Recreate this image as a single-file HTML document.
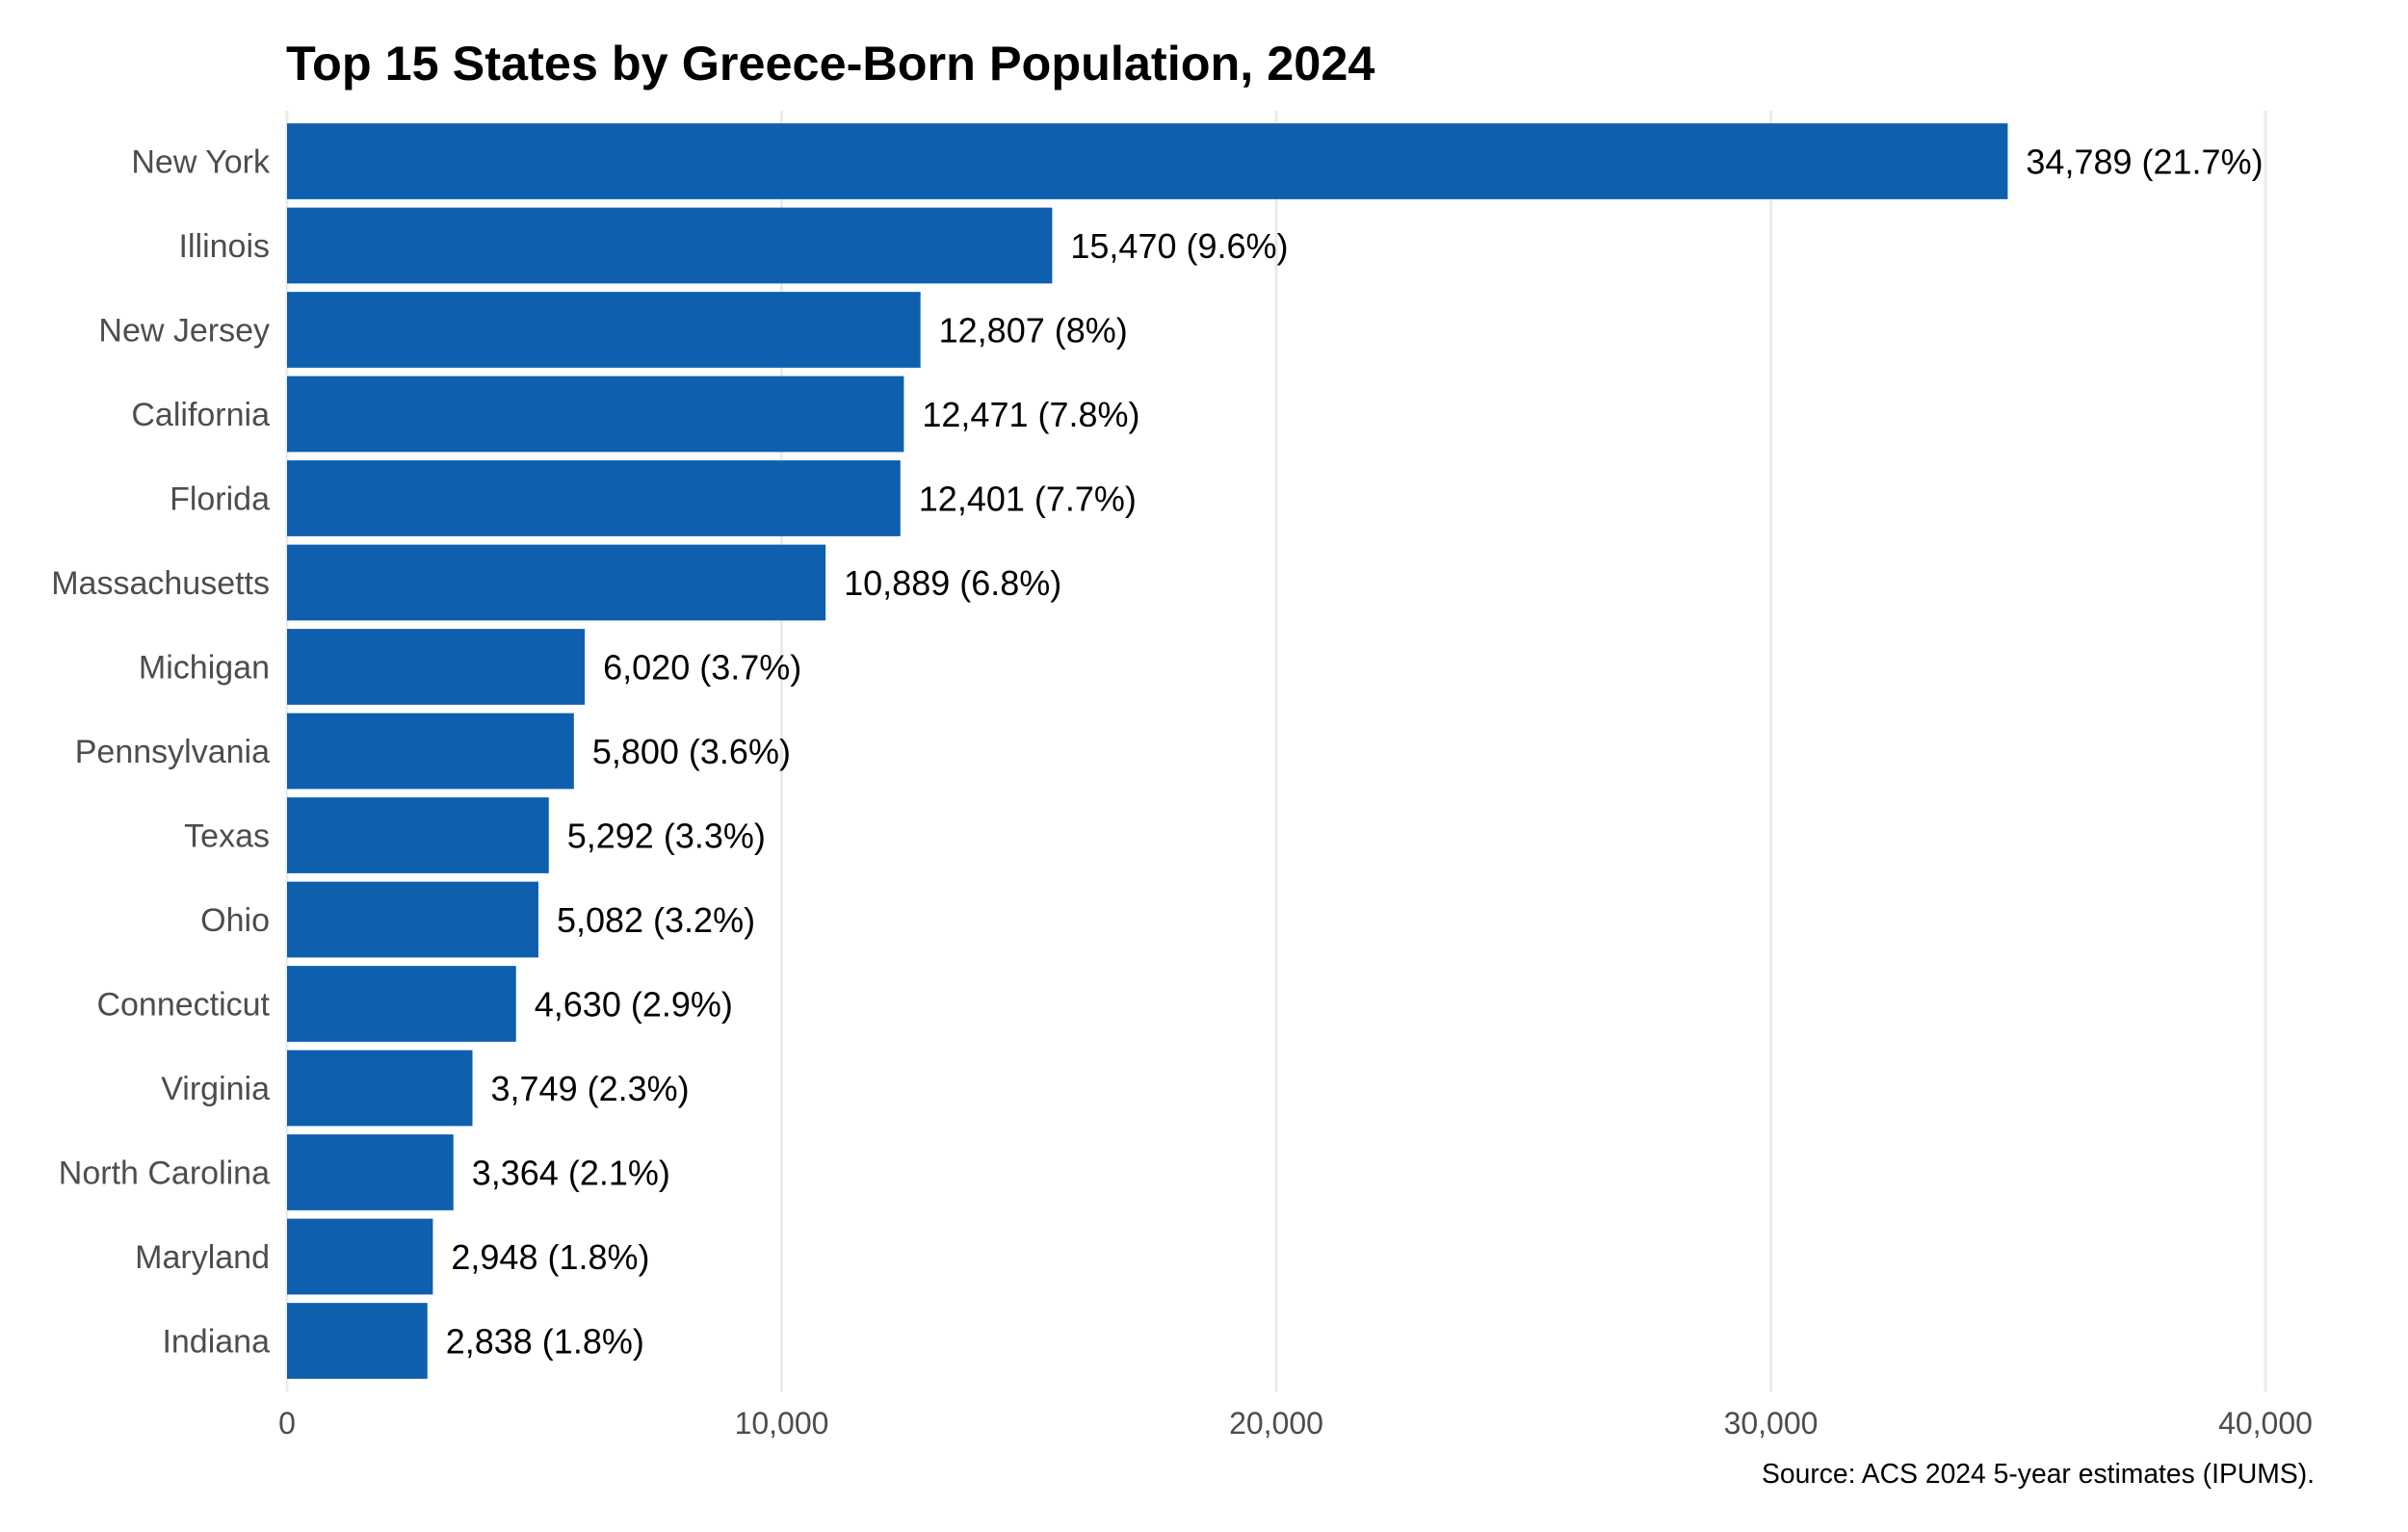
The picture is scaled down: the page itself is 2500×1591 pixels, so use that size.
<!DOCTYPE html>
<html><head><meta charset="utf-8"><style>
html,body{margin:0;padding:0;background:#fff;}
svg{display:block;font-family:"Liberation Sans",Arial,sans-serif;}
</style></head><body>
<svg id="chart" width="2500" height="1591" viewBox="0 0 2500 1591">
<rect width="2500" height="1591" fill="#fff"/>
<text x="297" y="83" font-size="50.4" font-weight="bold" fill="#000">Top 15 States by Greece-Born Population, 2024</text>
<g id="grid"></g>
<g id="bars"></g>
<g id="ylabels"></g>
<g id="xlabels"></g>
<text x="2403" y="1540" font-size="28.3" text-anchor="end" fill="#000">Source: ACS 2024 5-year estimates (IPUMS).</text>
</svg>
<script>
const states = ["New York","Illinois","New Jersey","California","Florida","Massachusetts","Michigan","Pennsylvania","Texas","Ohio","Connecticut","Virginia","North Carolina","Maryland","Indiana"];
const values = [34789,15470,12807,12471,12401,10889,6020,5800,5292,5082,4630,3749,3364,2948,2838];
const shares = ["21.7%","9.6%","8%","7.8%","7.7%","6.8%","3.7%","3.6%","3.3%","3.2%","2.9%","2.3%","2.1%","1.8%","1.8%"];
const xTicks = [0,10000,20000,30000,40000];
const xTickLabels = ["0","10,000","20,000","30,000","40,000"];

const NS="http://www.w3.org/2000/svg";
const x0=298, x1=2352, xMax=40000;
const panelTop=115, panelBot=1445;
const band=(panelBot-panelTop)/(states.length-1+1.2);
function xScale(v){return x0+(v/xMax)*(x1-x0);}
function yCenter(i){return panelTop+band*(0.6+i);}
function mk(tag,attrs,parent){const e=document.createElementNS(NS,tag);for(const k in attrs)e.setAttribute(k,attrs[k]);parent.appendChild(e);return e;}
const grid=document.getElementById('grid'),bars=document.getElementById('bars'),yl=document.getElementById('ylabels'),xl=document.getElementById('xlabels');
xTicks.forEach((t,i)=>{
  const l=mk('line',{x1:xScale(t),x2:xScale(t),y1:panelTop,y2:panelBot,stroke:'#ebebeb','stroke-width':3},grid);
  
  
  const tx=mk('text',{x:xScale(t),y:1489,'font-size':32,'text-anchor':'middle',fill:'#4d4d4d'},xl);
  tx.textContent=xTickLabels[i];
  
  
});
const bh=band*0.9;
states.forEach((s,i)=>{
  const cy=yCenter(i);
  const r=mk('rect',{x:x0,y:cy-bh/2,width:xScale(values[i])-x0,height:bh,fill:'#0e5fae'},bars);
  
  
  const v=mk('text',{x:xScale(values[i])+19,y:cy+13,'font-size':36,fill:'#000'},bars);
  v.textContent=values[i].toLocaleString('en-US')+' ('+shares[i]+')';
  
  
  const t=mk('text',{x:280,y:cy+12,'font-size':34,'text-anchor':'end',fill:'#4d4d4d'},yl);
  t.textContent=s;
  
  
});
</script>
</body></html>
